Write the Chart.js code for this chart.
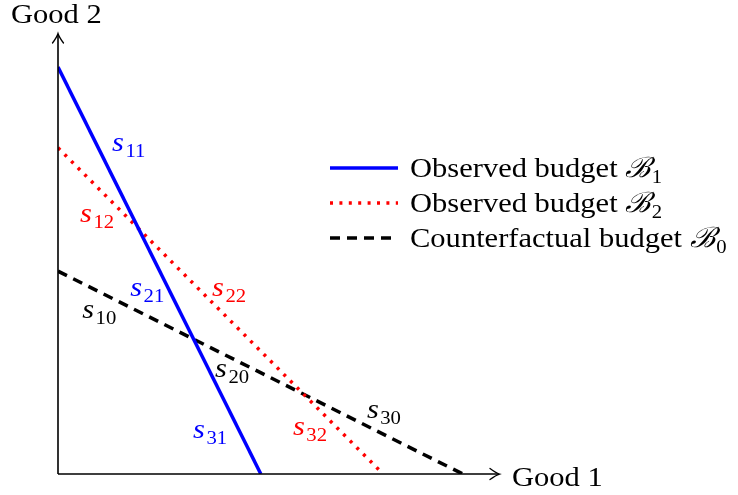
<!DOCTYPE html>
<html>
<head>
<meta charset="utf-8">
<script src="https://cdn.jsdelivr.net/npm/chart.js@4"></script>
<style>
  html, body { margin: 0; padding: 0; background: #fff; }
  canvas { display: block; }
</style>
</head>
<body>
<canvas id="chart" width="738" height="495"></canvas>
<script>
// budget lines: intercepts on (Good 1, Good 2), axes run 0..100
const b1X = [0, 46.1], b1Y = [92.7, 0];
const b2X = [0, 73.9], b2Y = [74.3, 0];
const b0X = [0, 92.0], b0Y = [46.2, 0];

const seriesNames = ['Observed budget', 'Observed budget', 'Counterfactual budget'];
const seriesSub = ['1', '2', '0'];

// segment labels s_ij, anchored at baseline-left of the "s"
const segSub = ['11', '12', '21', '22', '10', '20', '30', '31', '32'];
const segX = [12.3, 5.0, 16.4, 35.0, 5.5, 35.7, 70.2, 30.7, 53.4];
const segY = [73.6, 57.4, 40.5, 40.5, 35.5, 22.1, 12.8, 8.2, 8.9];
const segSeries = [0, 1, 0, 1, 2, 2, 2, 0, 1];

const axisNames = ['Good 1', 'Good 2'];

function pts(xs, ys) { return xs.map((x, i) => ({ x: x, y: ys[i] })); }

const serif = '"Liberation Serif", "DejaVu Serif", serif';
const STRETCH = 1.09;

// draws text a bit wider than Liberation Serif, closer to the LaTeX look
function wideText(ctx, text, x, y, size, italic, color) {
  ctx.save();
  ctx.font = (italic ? 'italic ' : '') + size + 'px ' + serif;
  ctx.fillStyle = color;
  ctx.textAlign = 'left';
  ctx.textBaseline = 'alphabetic';
  ctx.translate(x, y);
  ctx.scale(STRETCH, 1);
  ctx.fillText(text, 0, 0);
  const w = ctx.measureText(text).width * STRETCH;
  ctx.restore();
  return w;
}

function subText(ctx, main, sub, x, y, color) {
  const w = wideText(ctx, main, x, y, 28, true, color);
  wideText(ctx, sub, x + w + 1.5, y + 6, 19, false, color);
}

const drawExtras = {
  id: 'drawExtras',
  afterDatasetsDraw(chart) {
    const ctx = chart.ctx;
    const xs = chart.scales.x, ys = chart.scales.y;
    const ox = xs.getPixelForValue(0), oy = ys.getPixelForValue(0);
    const xEnd = xs.getPixelForValue(100), yEnd = ys.getPixelForValue(100);
    ctx.save();
    // axes
    ctx.strokeStyle = '#000';
    ctx.lineWidth = 1.6;
    ctx.lineCap = 'butt';
    ctx.beginPath();
    ctx.moveTo(ox, oy); ctx.lineTo(xEnd, oy);
    ctx.moveTo(ox, oy); ctx.lineTo(ox, yEnd);
    ctx.stroke();
    ctx.lineWidth = 1.3;
    ctx.lineCap = 'round';
    ctx.beginPath();
    ctx.moveTo(xEnd - 8, oy - 5.5);
    ctx.quadraticCurveTo(xEnd - 2, oy - 1, xEnd + 1.5, oy);
    ctx.quadraticCurveTo(xEnd - 2, oy + 1, xEnd - 8, oy + 5.5);
    ctx.moveTo(ox - 5.5, yEnd + 8);
    ctx.quadraticCurveTo(ox - 1, yEnd + 2, ox, yEnd - 1.5);
    ctx.quadraticCurveTo(ox + 1, yEnd + 2, ox + 5.5, yEnd + 8);
    ctx.stroke();
    ctx.restore();

    // axis names
    wideText(ctx, axisNames[0], xEnd + 14, oy + 12, 28, false, '#000');
    wideText(ctx, axisNames[1], 11, 23, 28, false, '#000');

    // segment labels
    segSub.forEach((s, i) => {
      const col = chart.data.datasets[segSeries[i]].borderColor;
      subText(ctx, 's', s, xs.getPixelForValue(segX[i]), ys.getPixelForValue(segY[i]), col);
    });

    // legend
    const lx0 = 330, lx1 = 398, rows = [168, 203, 238];
    chart.data.datasets.forEach((ds, i) => {
      ctx.save();
      ctx.strokeStyle = ds.borderColor;
      ctx.lineWidth = ds.borderWidth;
      ctx.lineCap = 'butt';
      ctx.setLineDash(ds.borderDash || []);
      ctx.beginPath();
      ctx.moveTo(lx0, rows[i]); ctx.lineTo(lx1, rows[i]);
      ctx.stroke();
      ctx.restore();
      const w = wideText(ctx, seriesNames[i] + ' ', 410, rows[i] + 9, 28, false, '#000');
      subText(ctx, '\u212C', seriesSub[i], 410 + w, rows[i] + 9, '#000');
    });
  }
};

new Chart(document.getElementById('chart'), {
  type: 'scatter',
  data: {
    datasets: [
      { label: seriesNames[0] + ' B1', data: pts(b1X, b1Y), showLine: true,
        borderColor: '#0000ff', borderWidth: 3.5, pointRadius: 0, borderCapStyle: 'butt' },
      { label: seriesNames[1] + ' B2', data: pts(b2X, b2Y), showLine: true,
        borderColor: '#ff0000', borderWidth: 3.5, borderDash: [3, 6.4], pointRadius: 0, borderCapStyle: 'butt' },
      { label: seriesNames[2] + ' B0', data: pts(b0X, b0Y), showLine: true,
        borderColor: '#000000', borderWidth: 3.5, borderDash: [10, 7], pointRadius: 0, borderCapStyle: 'butt' }
    ]
  },
  options: {
    responsive: false,
    animation: false,
    layout: { padding: { left: 58, top: 35, right: 240, bottom: 21 } },
    plugins: { legend: { display: false }, tooltip: { enabled: false } },
    scales: {
      x: { type: 'linear', min: 0, max: 100, display: false },
      y: { type: 'linear', min: 0, max: 100, display: false }
    }
  },
  plugins: [drawExtras]
});
</script>
</body>
</html>
